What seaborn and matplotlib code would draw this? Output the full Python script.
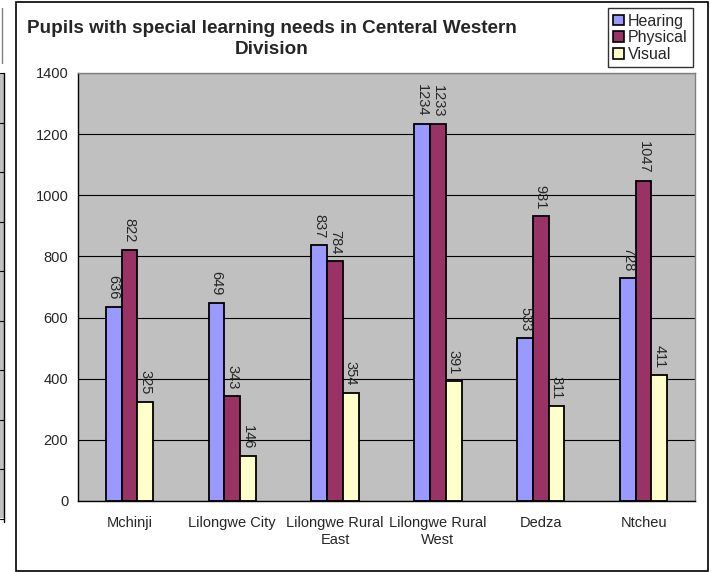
import seaborn as sns
import pandas as pd
from matplotlib import pyplot as plt
from matplotlib.patches import Rectangle
from matplotlib.lines import Line2D

districts = ["Mchinji", "Lilongwe City", "Lilongwe Rural\nEast", "Lilongwe Rural\nWest", "Dedza", "Ntcheu"]
hearing = [636, 649, 837, 1234, 533, 728]
physical = [822, 343, 784, 1233, 931, 1047]
visual = [325, 146, 354, 391, 311, 411]
series_names = ["Hearing", "Physical", "Visual"]
series_colors = ["#9999FF", "#993366", "#FFFFCC"]
y_ticks = [0, 200, 400, 600, 800, 1000, 1200, 1400]

rows = []
for name, vals in zip(series_names, [hearing, physical, visual]):
    for d, v in zip(districts, vals):
        rows.append({"District": d, "Pupils": v, "Type": name})
df = pd.DataFrame(rows)

sns.set_style("white")
plt.rcParams["font.family"] = ["Liberation Sans", "DejaVu Sans"]

fig = plt.figure(figsize=(7.11, 5.72), dpi=100)
ax = fig.add_axes([78 / 711, 71 / 572, 617 / 711, 428 / 572])

sns.barplot(
    data=df, x="District", y="Pupils", hue="Type",
    palette=series_colors, saturation=1, width=0.46, gap=0,
    edgecolor="black", linewidth=1.3, ax=ax, zorder=3,
)

for cont in ax.containers:
    ax.bar_label(cont, rotation=-90, padding=5, fontsize=10.5)

ax.set_facecolor("#C0C0C0")
ax.set_ylim(0, 1400)
ax.set_yticks(y_ticks)
ax.set_yticklabels([str(t) for t in y_ticks], fontsize=10.5)
ax.set_xlim(-0.5, len(districts) - 0.5)
ax.set_xticks(range(len(districts)))
ax.set_xticklabels(districts, fontsize=10.5, linespacing=1.25)
ax.set_xticks([i - 0.5 for i in range(len(districts) + 1)], minor=True)
ax.tick_params(axis="x", which="major", length=0, pad=11)
ax.tick_params(axis="x", which="minor", length=5, width=1, color="black", direction="out")
ax.tick_params(axis="y", length=5, width=1, color="black", direction="out", pad=2)
ax.set_xlabel("")
ax.set_ylabel("")

ax.yaxis.grid(True, color="black", linewidth=0.8, zorder=0)
ax.set_axisbelow(True)

ax.spines["left"].set_color("black")
ax.spines["bottom"].set_color("black")
ax.spines["top"].set_color("#808080")
ax.spines["right"].set_color("#808080")
for s in ax.spines.values():
    s.set_linewidth(1)

fig.text(
    272 / 711, 1 - 20 / 572,
    "Pupils with special learning needs in Centeral Western\nDivision",
    ha="center", va="top", fontsize=13.6, fontweight="bold", linespacing=1.3,
)

old = ax.get_legend()
if old is not None:
    old.remove()
handles = [Rectangle((0, 0), 1, 1, facecolor=c, edgecolor="black", linewidth=1.2) for c in series_colors]
leg = fig.legend(
    handles, series_names, loc="upper right",
    bbox_to_anchor=(693 / 711, 1 - 8 / 572), fontsize=11.5,
    frameon=True, fancybox=False, borderpad=0.35, labelspacing=0.1,
    handlelength=0.65, handleheight=0.65, handletextpad=0.25, borderaxespad=0,
)
leg.get_frame().set_edgecolor("black")
leg.get_frame().set_linewidth(1)

# chart border
fig.add_artist(Rectangle((16 / 711, 1 / 572), 692 / 711, 569 / 572,
                         transform=fig.transFigure, fill=False, edgecolor="black", linewidth=1.2))

# cropped neighbouring chart at the left edge
fig.add_artist(Rectangle((0, 1 - 518 / 572), 4 / 711, 445 / 572,
                         transform=fig.transFigure, facecolor="#C0C0C0", edgecolor="none"))
fig.add_artist(Line2D([4 / 711, 4 / 711], [1 - 522 / 572, 1 - 73 / 572],
                      transform=fig.transFigure, color="black", linewidth=1))
fig.add_artist(Line2D([2 / 711, 2 / 711], [1 - 63 / 572, 1 - 8 / 572],
                      transform=fig.transFigure, color="#808080", linewidth=1))
for k in range(10):
    yy = 1 - (73 + 49.5 * k) / 572
    fig.add_artist(Line2D([0, 4 / 711], [yy, yy], transform=fig.transFigure, color="black", linewidth=0.8))

fig.savefig("out.png", dpi=100)
